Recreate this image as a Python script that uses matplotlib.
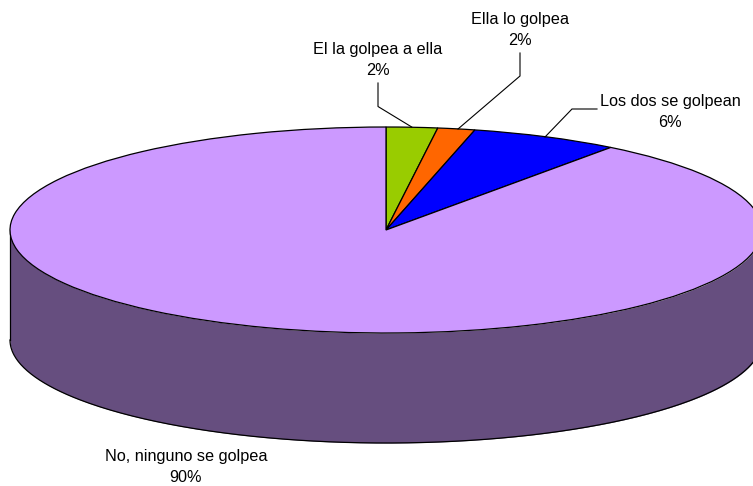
"""
3D-looking pie chart, drawn as a squashed pie on top of a side wall.
"""

import matplotlib
matplotlib.use("Agg")
import matplotlib.pyplot as plt
import numpy as np

plt.rcParams["font.family"] = ["Liberation Sans", "DejaVu Sans"]

categories = ["El la golpea a ella", "Ella lo golpea", "Los dos se golpean", "No, ninguno se golpea"]
values = [2.2, 1.6, 6.4, 89.8]
colors = ["#99CC00", "#FF6600", "#0000FF", "#CC99FF"]

# ── Pixel layout of the ellipse ───────────────────────────────────────────
W, H = 753, 486
CX, CY = 386, 230
RX, RY = 376, 103
DEPTH = 110
C_SIDE = "#664E7F"

fig = plt.figure(figsize=(W / 100, H / 100), dpi=100)
ax = fig.add_axes([0, 0, 1, 1])

ax.pie(values, colors=colors, startangle=90, counterclock=False, radius=1,
       wedgeprops=dict(edgecolor="black", linewidth=0.9))

# side wall under the front half of the pie
theta = np.linspace(np.pi, 2 * np.pi, 300)
d = DEPTH / RY
xs, ys = np.cos(theta), np.sin(theta)
ax.fill_between(xs, ys, ys - d, color=C_SIDE, linewidth=0, zorder=0)
ax.plot(xs, ys - d, color="black", lw=0.9, zorder=0.5)
ax.plot([-1, -1], [0, -d], color="black", lw=0.9, zorder=0.5)
ax.plot([1, 1], [0, -d], color="black", lw=0.9, zorder=0.5)

# squash the circle into the ellipse
ax.set_xlim(-CX / RX, (W - CX) / RX)
ax.set_ylim((CY - H) / RY, CY / RY)
ax.set_aspect("auto")
ax.axis("off")

# ── Overlay in pixel coordinates for labels and leaders ───────────────────
ov = fig.add_axes([0, 0, 1, 1], facecolor="none")
ov.set_xlim(0, W)
ov.set_ylim(H, 0)
ov.axis("off")

label_pos = [(378, 60), (520, 30), (670, 111.5), (186, 467)]
leaders = [
    [(378, 83), (378, 106.5), (411.7, 127)],
    [(520, 53), (520, 76), (458, 129)],
    [(597, 109), (572, 109), (545, 137)],
]

for (x, y), name, val in zip(label_pos, categories, values):
    ov.text(x, y, f"{name}\n{val:.0f}%", ha="center", va="center",
            fontsize=11.7, color="black", linespacing=1.5)

for pts in leaders:
    ov.plot(*zip(*pts), color="black", lw=0.8, solid_joinstyle="miter")

fig.savefig("out.png", dpi=100)
plt.close(fig)
